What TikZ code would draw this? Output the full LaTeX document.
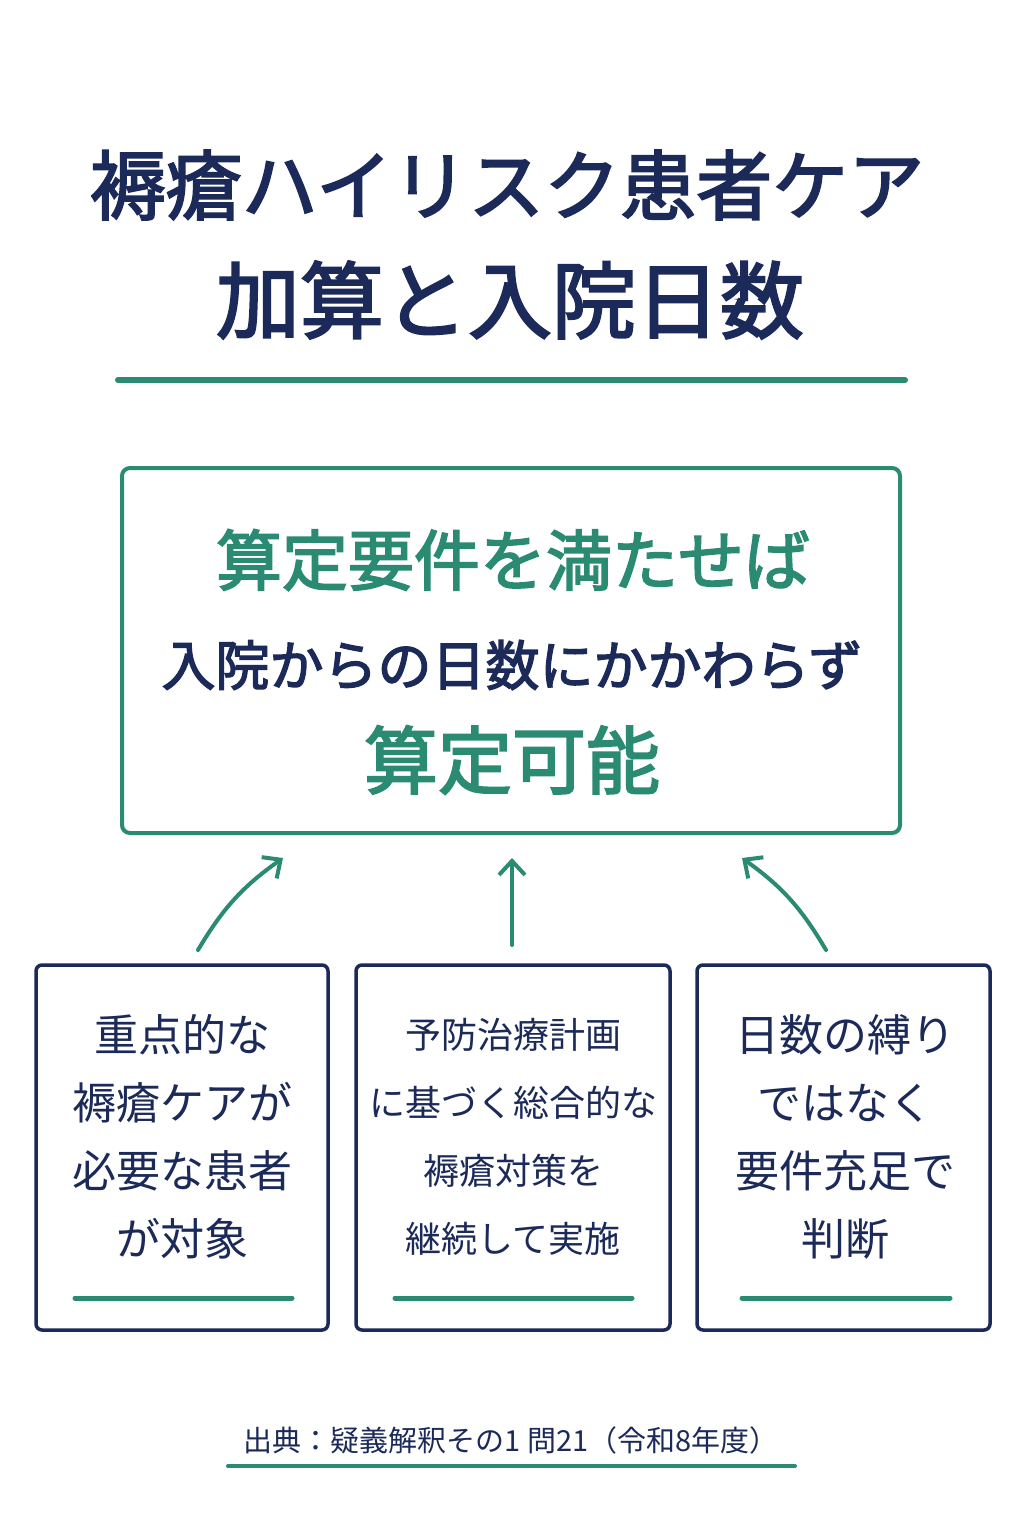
\documentclass[tikz,border=0pt]{standalone}
\usepackage{fontspec}
\newfontfamily\jp{Noto Sans CJK JP}
\newfontfamily\jpb{Noto Sans CJK JP}[FakeBold=2.5]
\usetikzlibrary{arrows.meta}
\definecolor{navy}{HTML}{1B2A58}
\definecolor{teal}{HTML}{2A8A72}
\begin{document}
\begin{tikzpicture}[x=1pt,y=-1pt,
  txt/.style={inner sep=0pt},
  fs/.style={font=\jp\fontsize{#1}{#1}\selectfont},
  fb/.style={font=\jpb\fontsize{#1}{#1}\selectfont},
  box/.style={draw=navy,line width=3.5pt,rounded corners=6pt},
  uline/.style={teal,line width=5pt,line cap=round},
  arr/.style={teal,line width=4pt,line cap=round,-{Straight Barb[length=14pt,width=26pt,line width=4pt]}}]
\useasboundingbox[fill=white] (0,0) rectangle (1024,1536);
% title
\node[txt,navy,fb=76] (t1) at (507,185) {褥瘡ハイリスク患者ケア};
\node[txt,navy,fb=84] (t2) at (510,300) {加算と入院日数};
\draw[uline,line width=6pt] (118,380) -- (905,380);
% main box
\draw[draw=teal,line width=4pt,rounded corners=8pt] (122,468) rectangle (900,833);
\node[txt,teal,fb=66] (m1) at (513,560) {算定要件を満たせば};
\node[txt,navy,fb=54] (m2) at (512,665) {入院からの日数にかかわらず};
\node[txt,teal,fb=74] (m3) at (512,760) {算定可能};
\coordinate (a1s) at (198,950); \coordinate (a1e) at (283,858);
\coordinate (a2s) at (512,945); \coordinate (a2e) at (512,858);
\coordinate (a3s) at (826,950); \coordinate (a3e) at (742,858);
\draw[arr] (a1s) to[bend left=12] (a1e);
\draw[arr] (a2s) -- (a2e);
\draw[arr] (a3s) to[bend right=12] (a3e);
% boxes
\draw[box] (36,965) rectangle (328,1330);
\draw[box] (356,965) rectangle (670,1330);
\draw[box] (697,965) rectangle (990,1330);
\node[txt,navy,fs=44,align=center] (b1) at (182,1137) {重点的な\\[24pt]褥瘡ケアが\\[24pt]必要な患者\\[24pt]が対象};
\node[txt,navy,fs=36,align=center] (b2) at (513,1137) {予防治療計画\\[32pt]に基づく総合的な\\[32pt]褥瘡対策を\\[32pt]継続して実施};
\node[txt,navy,fs=44,align=center] (b3) at (845,1137) {日数の縛り\\[24pt]ではなく\\[24pt]要件充足で\\[24pt]判断};
\draw[uline] (75,1298) -- (292,1298);
\draw[uline] (395,1298) -- (632,1298);
\draw[uline] (742,1298) -- (950,1298);
% footer
\node[txt,navy,fs=29] (f) at (511,1440) {出典：疑義解釈その1 問21（令和8年度）};
\draw[uline,line width=4pt] (228,1466) -- (795,1466);
\end{tikzpicture}
\end{document}
